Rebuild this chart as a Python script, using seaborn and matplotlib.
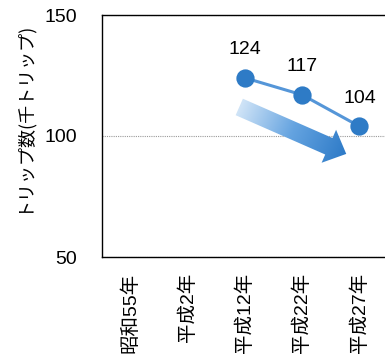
import numpy as np
import pandas as pd
import matplotlib
matplotlib.use("Agg")
import matplotlib.pyplot as plt
from matplotlib.patches import Polygon
from matplotlib.colors import LinearSegmentedColormap
from matplotlib.transforms import IdentityTransform
import seaborn as sns

# Survey years and trip counts (thousand trips); earlier years have no value
years = ["昭和55年", "平成2年", "平成12年", "平成22年", "平成27年"]
trips = [np.nan, np.nan, 124, 117, 104]
y_ticks = [50, 100, 150]
y_label = "トリップ数(千トリップ)"

# Decorative downward-trend arrow, anchored in data coordinates
arrow_start = (1.9, 112.0)
arrow_end = (3.77, 92.6)

sns.set_style("white")
plt.rcParams["font.family"] = ["Liberation Sans", "Noto Sans CJK JP"]
plt.rcParams["text.color"] = "black"

fig = plt.figure(figsize=(3.85, 3.60), dpi=100)
ax = fig.add_axes([102 / 385, 103 / 360, 286 / 385, 242 / 360])

df = pd.DataFrame({"year": years, "trips": trips})
sns.pointplot(
    data=df, x="year", y="trips", order=years, errorbar=None,
    color="#5596d8", markers="o", markersize=11.5, linewidth=2.2,
    markerfacecolor="#2e7bc6", markeredgecolor="#2e7bc6", ax=ax,
)

for i, v in enumerate(df["trips"]):
    if np.isfinite(v):
        ax.annotate(f"{v:.0f}", (i, v), xytext=(0, 17), textcoords="offset points",
                    ha="center", va="baseline", fontsize=14, color="black")

xlim = (-0.5, len(years) - 0.5)
ylim = (y_ticks[0], y_ticks[-1])
ax.set_xlim(*xlim)
ax.set_ylim(*ylim)

# Gradient arrow built in display space so its proportions are not distorted
p0 = ax.transData.transform(arrow_start)
p1 = ax.transData.transform(arrow_end)
d = p1 - p0
L = np.hypot(*d)
u = d / L
n = np.array([-u[1], u[0]])
sw, hw, hl = 9.0, 18.0, 19.0
base = p1 - u * hl
verts = np.array([p0 + n * sw, base + n * sw, base + n * hw, p1,
                  base - n * hw, base - n * sw, p0 - n * sw])
poly = Polygon(verts, closed=True, transform=IdentityTransform(),
               facecolor="none", edgecolor="none")
ax.add_patch(poly)

xmin_d, ymin_d = verts.min(axis=0) - 2
xmax_d, ymax_d = verts.max(axis=0) + 2
gx = np.linspace(xmin_d, xmax_d, 200)
gy = np.linspace(ymin_d, ymax_d, 200)
GX, GY = np.meshgrid(gx, gy)
T = ((GX - p0[0]) * u[0] + (GY - p0[1]) * u[1]) / L
T = np.clip(T, 0, 1)
cmap = LinearSegmentedColormap.from_list("trend", ["#d0e4f7", "#64a3e0", "#2d7ac7"])
inv = ax.transData.inverted()
(dx0, dy0) = inv.transform((xmin_d, ymin_d))
(dx1, dy1) = inv.transform((xmax_d, ymax_d))
img = ax.imshow(T, cmap=cmap, vmin=0, vmax=1, extent=(dx0, dx1, dy0, dy1),
                origin="lower", aspect="auto", interpolation="bilinear", zorder=1)
img.set_clip_path(poly)
ax.set_xlim(*xlim)
ax.set_ylim(*ylim)

# Axes styling
ax.set_yticks(y_ticks)
ax.set_yticklabels([str(t) for t in y_ticks], fontsize=14)
ax.tick_params(axis="y", length=0, pad=18, labelcolor="black")
ax.yaxis.grid(True, linestyle=(0, (1, 1)), color="#9a9a9a", linewidth=0.8)
ax.set_axisbelow(True)

ax.set_xticks(range(len(years)))
ax.set_xticklabels(years, rotation=90, fontsize=14, va="top", ha="center")
ax.tick_params(axis="x", which="major", length=0, pad=11, labelcolor="black")
ax.set_xticks(np.arange(0.5, len(years) - 0.5, 1), minor=True)
ax.tick_params(axis="x", which="minor", direction="in", length=5, width=0.8, color="#999999")
ax.set_xlabel("")
ax.set_ylabel("")

for side in ["left", "top", "bottom", "right"]:
    ax.spines[side].set_color("#000000")
    ax.spines[side].set_linewidth(1.0)
    ax.spines[side].set_visible(True)

fig.text(22 / 385, 1 - 117 / 360, y_label, rotation=90, ha="center", va="center",
         fontsize=13, color="black", family=["Noto Sans CJK JP", "DejaVu Sans"])

fig.savefig("out.png", dpi=100)
